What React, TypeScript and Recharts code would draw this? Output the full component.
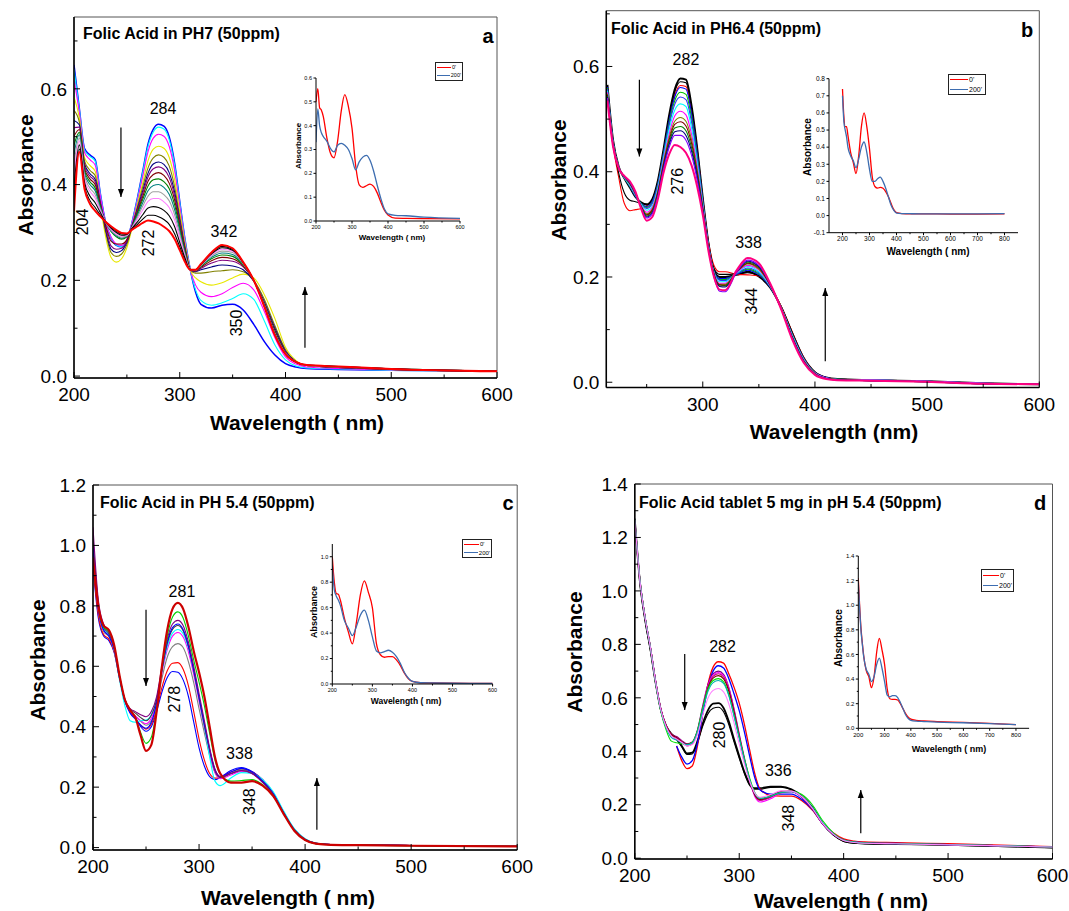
import React from 'react';
import { LineChart, Line, XAxis, YAxis, ReferenceArea, ReferenceDot, ReferenceLine } from 'recharts';

const FONT = '"Liberation Sans", Arial, Helvetica, sans-serif';

// wavelength grids (nm)
const WL = [200, 205, 210, 215, 220, 225, 230, 235, 240, 245, 250, 255, 260, 265, 270, 275, 280, 285, 290, 295, 300, 305, 310, 315, 320, 330, 340, 350, 360, 370, 380, 390, 400, 410, 420, 450, 500, 600];
const WL_B = [215, 220, 225, 230, 235, 240, 245, 250, 255, 260, 265, 270, 275, 280, 285, 290, 295, 300, 305, 310, 315, 320, 330, 340, 350, 360, 370, 380, 390, 400, 410, 420, 450, 500, 550, 600];
const WL_IN = [200, 205, 210, 215, 220, 230, 240, 250, 260, 270, 280, 290, 300, 310, 320, 330, 340, 350, 360, 370, 380, 390, 400, 420, 450, 500, 600];
const WL_IN_WIDE = [200, 205, 210, 215, 220, 230, 240, 250, 260, 270, 280, 290, 300, 310, 320, 330, 340, 350, 360, 370, 380, 390, 400, 420, 450, 500, 600, 700, 800];

// ---- panel a : pH 7 ----
const A0 = [.650, .560, .475, .462, .452, .380, .320, .288, .273, .270, .283, .322, .372, .428, .485, .516, .526, .522, .500, .447, .365, .285, .222, .175, .150, .142, .148, .150, .138, .108, .072, .044, .026, .019, .016, .014, .012, .010];
const A1 = [.641, .557, .472, .459, .449, .379, .320, .289, .274, .271, .283, .322, .370, .425, .480, .510, .520, .516, .494, .442, .362, .284, .222, .180, .158, .148, .153, .162, .172, .160, .115, .065, .034, .021, .017, .015, .012, .010];
const A2 = [.620, .551, .467, .452, .441, .375, .320, .291, .276, .273, .285, .320, .366, .417, .469, .497, .505, .501, .480, .431, .355, .280, .222, .190, .175, .166, .172, .185, .194, .180, .135, .080, .040, .025, .019, .016, .013, .010];
const A3 = [.583, .540, .456, .440, .428, .355, .290, .248, .238, .245, .268, .310, .359, .404, .450, .474, .480, .476, .457, .412, .343, .275, .222, .205, .197, .190, .195, .205, .213, .205, .170, .120, .060, .032, .022, .018, .014, .010];
const A4 = [.555, .531, .449, .430, .419, .360, .300, .258, .250, .255, .275, .312, .354, .395, .435, .456, .462, .457, .439, .397, .333, .270, .222, .215, .215, .218, .220, .222, .218, .200, .160, .105, .055, .030, .022, .018, .014, .010];
const A5 = [.534, .525, .443, .423, .411, .362, .305, .265, .258, .262, .280, .314, .350, .387, .424, .443, .447, .442, .425, .386, .326, .267, .222, .218, .222, .228, .232, .230, .222, .198, .155, .100, .052, .030, .022, .018, .014, .010];
const A6 = [.519, .520, .438, .418, .406, .360, .310, .272, .265, .267, .282, .315, .347, .382, .416, .433, .437, .432, .415, .378, .321, .265, .222, .219, .225, .236, .242, .240, .228, .199, .152, .096, .050, .029, .022, .018, .014, .010];
const A7 = [.501, .515, .433, .412, .400, .357, .314, .282, .276, .276, .285, .314, .343, .375, .407, .421, .425, .419, .403, .369, .315, .262, .222, .220, .227, .241, .248, .245, .230, .199, .150, .094, .049, .029, .022, .019, .014, .010];
const A8 = [.482, .509, .428, .406, .393, .354, .321, .302, .291, .286, .291, .313, .340, .369, .397, .410, .412, .406, .392, .359, .309, .259, .222, .220, .229, .245, .253, .250, .232, .199, .150, .092, .048, .029, .022, .019, .015, .010];
const A9 = [.464, .504, .423, .400, .387, .351, .321, .303, .293, .288, .292, .312, .336, .362, .387, .398, .400, .394, .380, .349, .303, .256, .222, .221, .230, .248, .257, .254, .234, .200, .149, .090, .048, .029, .022, .019, .015, .010];
const A10 = [.443, .497, .417, .393, .379, .348, .321, .305, .295, .290, .293, .311, .332, .355, .376, .385, .385, .379, .366, .338, .296, .253, .222, .221, .231, .251, .261, .258, .235, .200, .148, .089, .047, .029, .022, .019, .015, .010];
const A11 = [.421, .491, .411, .386, .372, .345, .322, .307, .297, .292, .294, .310, .328, .347, .365, .371, .371, .364, .352, .327, .289, .250, .222, .221, .232, .253, .265, .261, .236, .200, .147, .088, .047, .029, .022, .020, .015, .010];
const A12 = [.394, .483, .404, .376, .362, .341, .322, .309, .300, .294, .296, .309, .322, .337, .351, .354, .352, .346, .335, .313, .279, .246, .222, .222, .233, .255, .268, .263, .237, .200, .146, .087, .046, .029, .023, .020, .015, .010];
const A13 = [.366, .474, .396, .367, .352, .336, .322, .311, .303, .297, .297, .307, .317, .328, .336, .336, .333, .327, .317, .298, .270, .241, .222, .222, .233, .257, .271, .265, .237, .200, .146, .086, .046, .029, .023, .020, .015, .010];
const A14 = [.345, .468, .390, .360, .345, .333, .322, .313, .305, .299, .298, .306, .313, .320, .325, .323, .319, .312, .303, .287, .263, .238, .222, .222, .234, .258, .274, .267, .238, .200, .145, .085, .046, .029, .023, .020, .015, .010];

// ---- panel b : pH 6.4 ----
const B0 = [.565, .460, .410, .388, .370, .352, .342, .338, .348, .383, .442, .507, .556, .577, .575, .525, .445, .350, .265, .213, .200, .200, .204, .210, .201, .180, .142, .092, .046, .019, .009, .006, .004, .002, -.002, -.004];
const B1 = [.555, .452, .390, .340, .326, .328, .330, .335, .345, .378, .435, .497, .545, .564, .562, .515, .440, .348, .268, .222, .210, .210, .205, .204, .202, .182, .144, .094, .047, .019, .009, .006, .004, .002, -.002, -.004];
const B2 = [.560, .456, .398, .360, .346, .343, .340, .337, .347, .381, .439, .503, .552, .571, .569, .521, .443, .349, .266, .216, .205, .205, .206, .208, .203, .181, .143, .093, .046, .019, .009, .006, .004, .002, -.002, -.004];
const B3 = [.561, .458, .409, .389, .372, .353, .340, .334, .344, .378, .436, .497, .542, .560, .557, .510, .436, .346, .263, .211, .197, .197, .205, .213, .204, .181, .141, .090, .045, .018, .009, .006, .004, .002, -.002, -.004];
const B4 = [.559, .457, .409, .389, .372, .354, .340, .332, .341, .376, .433, .492, .535, .551, .547, .502, .430, .344, .262, .210, .195, .195, .206, .215, .206, .182, .141, .090, .044, .018, .008, .006, .004, .002, -.002, -.004];
const B5 = [.557, .456, .409, .389, .373, .355, .339, .330, .339, .374, .430, .487, .528, .542, .537, .494, .425, .341, .261, .209, .194, .193, .206, .217, .208, .182, .141, .089, .044, .018, .008, .005, .004, .002, -.002, -.004];
const B6 = [.554, .455, .409, .389, .374, .356, .338, .327, .335, .370, .426, .480, .517, .529, .524, .483, .418, .338, .259, .208, .191, .191, .207, .220, .210, .183, .141, .088, .043, .017, .008, .005, .004, .002, -.002, -.004];
const B7 = [.551, .454, .408, .390, .376, .357, .336, .323, .332, .366, .421, .471, .506, .515, .508, .471, .410, .335, .258, .207, .188, .188, .208, .222, .213, .184, .140, .086, .042, .017, .008, .005, .004, .002, -.002, -.004];
const B8 = [.548, .453, .408, .390, .377, .358, .335, .320, .329, .363, .417, .465, .496, .503, .496, .461, .403, .332, .256, .206, .186, .186, .209, .225, .215, .185, .140, .085, .041, .016, .007, .005, .003, .001, -.003, -.004];
const B9 = [.546, .452, .408, .391, .378, .358, .334, .318, .327, .361, .414, .460, .490, .495, .487, .454, .399, .330, .256, .205, .185, .184, .209, .226, .217, .185, .139, .084, .040, .016, .007, .005, .003, .001, -.003, -.004];
const B10 = [.544, .451, .408, .391, .378, .359, .334, .316, .324, .359, .411, .455, .483, .486, .478, .446, .394, .328, .255, .204, .183, .183, .210, .228, .219, .186, .139, .084, .040, .016, .007, .005, .003, .001, -.003, -.004];
const B11 = [.542, .450, .408, .391, .379, .360, .333, .314, .322, .356, .409, .451, .476, .478, .469, .439, .390, .326, .254, .203, .182, .181, .210, .230, .220, .186, .139, .083, .039, .015, .007, .004, .003, .001, -.003, -.004];
const B12 = [.540, .449, .408, .391, .380, .360, .332, .312, .320, .354, .405, .446, .469, .469, .460, .431, .384, .323, .253, .200, .173, .172, .208, .232, .222, .187, .139, .082, .039, .015, .007, .004, .003, .001, -.003, -.004];
const B13 = [.535, .448, .407, .392, .382, .362, .330, .307, .314, .348, .398, .433, .451, .447, .436, .412, .372, .318, .250, .200, .176, .175, .212, .236, .226, .188, .138, .080, .037, .014, .006, .004, .003, .001, -.003, -.004];

// ---- panel c : pH 5.4 ----
const C0 = [.960, .800, .735, .720, .670, .570, .490, .455, .430, .370, .320, .340, .450, .600, .720, .790, .810, .790, .730, .650, .580, .500, .400, .300, .245, .215, .215, .220, .205, .170, .110, .055, .025, .013, .010, .008, .006, .004];
const C1 = [.956, .795, .730, .715, .667, .569, .490, .454, .430, .380, .345, .365, .455, .593, .700, .763, .780, .760, .700, .620, .548, .470, .378, .290, .243, .220, .222, .225, .208, .172, .111, .056, .025, .013, .010, .008, .006, .004];
const C2 = [1.060, .820, .740, .712, .662, .567, .490, .460, .450, .440, .433, .450, .500, .600, .690, .740, .752, .735, .680, .600, .510, .420, .330, .260, .235, .245, .255, .245, .215, .175, .112, .057, .026, .013, .010, .008, .006, .004];
const C3 = [.990, .790, .720, .700, .655, .563, .485, .445, .425, .405, .395, .415, .480, .590, .680, .728, .740, .722, .668, .588, .498, .410, .325, .258, .235, .250, .262, .250, .220, .178, .114, .058, .027, .014, .011, .009, .007, .004];
const C4 = [1.020, .810, .730, .708, .660, .566, .490, .458, .445, .430, .420, .438, .490, .590, .675, .722, .735, .718, .665, .585, .495, .405, .322, .255, .232, .245, .255, .246, .218, .176, .113, .058, .027, .014, .011, .009, .007, .004];
const C5 = [1.000, .800, .725, .705, .655, .555, .470, .420, .415, .420, .422, .440, .490, .585, .665, .710, .722, .708, .660, .585, .495, .400, .300, .220, .205, .230, .248, .245, .225, .185, .120, .062, .029, .015, .011, .009, .007, .004];
const C6 = [.980, .790, .720, .702, .655, .562, .488, .448, .435, .420, .410, .428, .480, .578, .655, .700, .712, .697, .648, .572, .485, .398, .315, .250, .228, .240, .252, .244, .218, .177, .114, .058, .027, .014, .011, .009, .007, .004];
const C7 = [.970, .785, .715, .698, .652, .561, .488, .450, .435, .418, .405, .420, .470, .560, .630, .665, .675, .662, .615, .545, .460, .380, .305, .248, .230, .245, .258, .248, .220, .178, .114, .059, .027, .014, .011, .009, .007, .004];
const C8 = [.940, .770, .705, .690, .648, .560, .488, .448, .428, .405, .392, .408, .458, .530, .585, .610, .612, .590, .535, .450, .360, .290, .245, .230, .232, .250, .260, .250, .224, .180, .115, .060, .028, .014, .011, .009, .007, .004];
const C9 = [.930, .760, .700, .685, .645, .560, .490, .450, .430, .400, .385, .400, .450, .515, .563, .583, .580, .555, .500, .415, .330, .270, .235, .225, .232, .255, .265, .252, .225, .180, .115, .060, .028, .014, .011, .009, .007, .004];

// ---- panel d : tablet 5 mg, pH 5.4 ----
const D0 = [null, null, null, null, null, null, null, null, .420, .365, .335, .345, .420, .540, .650, .715, .735, .730, .690, .640, .580, .500, .405, .315, .258, .235, .232, .232, .215, .180, .130, .095, .072, .064, .061, .058, .054, .043];
const D1 = [null, null, null, null, null, null, null, null, .420, .378, .352, .365, .430, .540, .640, .700, .720, .712, .672, .615, .552, .472, .382, .300, .255, .240, .240, .240, .220, .183, .128, .090, .068, .061, .058, .055, .051, .042];
const D2 = [1.272, 1.040, .900, .790, .662, .558, .497, .465, .455, .440, .428, .435, .480, .570, .650, .690, .700, .688, .640, .560, .465, .375, .295, .238, .218, .228, .248, .250, .228, .185, .128, .090, .067, .060, .057, .055, .051, .042];
const D3 = [1.268, 1.036, .898, .788, .660, .556, .495, .462, .452, .437, .425, .432, .476, .565, .645, .685, .695, .683, .636, .555, .460, .368, .288, .230, .210, .222, .244, .248, .228, .186, .129, .090, .067, .060, .057, .055, .051, .042];
const D4 = [1.270, 1.038, .899, .789, .661, .557, .496, .463, .450, .433, .420, .428, .472, .560, .640, .680, .690, .678, .632, .552, .458, .368, .290, .235, .216, .228, .248, .250, .229, .186, .129, .090, .067, .060, .057, .055, .051, .042];
const D5 = [1.266, 1.035, .897, .787, .660, .556, .496, .463, .452, .437, .426, .433, .475, .560, .636, .674, .683, .671, .625, .547, .455, .367, .290, .237, .220, .232, .250, .251, .229, .186, .129, .090, .066, .059, .057, .054, .051, .042];
const D6 = [1.270, 1.038, .898, .786, .655, .548, .480, .438, .432, .428, .425, .433, .478, .562, .632, .665, .672, .660, .612, .535, .452, .372, .300, .245, .225, .232, .245, .250, .238, .200, .140, .095, .068, .060, .057, .055, .051, .042];
const D7 = [1.268, 1.036, .897, .786, .657, .552, .488, .452, .442, .432, .424, .431, .472, .552, .623, .657, .665, .654, .608, .532, .448, .366, .294, .242, .224, .232, .247, .249, .231, .190, .132, .092, .067, .060, .057, .054, .051, .042];
const D8 = [1.265, 1.034, .896, .786, .658, .554, .492, .458, .446, .433, .420, .425, .462, .535, .598, .628, .635, .622, .578, .506, .428, .352, .288, .243, .228, .238, .252, .251, .230, .187, .129, .090, .066, .059, .056, .054, .050, .042];
const D9 = [1.268, 1.030, .890, .780, .655, .553, .495, .465, .448, .420, .392, .395, .438, .503, .553, .578, .580, .562, .512, .445, .382, .322, .278, .262, .262, .268, .268, .258, .232, .190, .130, .088, .064, .057, .055, .053, .050, .040];
const D10 = [1.262, 1.025, .886, .776, .652, .550, .492, .462, .444, .416, .388, .390, .430, .493, .540, .561, .565, .548, .500, .435, .374, .316, .272, .258, .258, .265, .266, .256, .230, .188, .128, .087, .063, .056, .054, .052, .049, .039];

// ---- insets: 0' and 200' ----
const IA_0 = [.500, .555, .475, .465, .440, .350, .285, .265, .335, .460, .530, .480, .390, .235, .152, .141, .148, .155, .145, .118, .080, .045, .025, .012, .011, .010, .009];
const IA_200 = [.330, .470, .400, .370, .355, .335, .305, .290, .318, .326, .318, .300, .262, .215, .248, .268, .275, .255, .210, .150, .095, .050, .030, .024, .022, .016, .011];
const IB_0 = [.740, .580, .520, .520, .470, .370, .310, .245, .350, .520, .600, .520, .390, .230, .170, .160, .165, .160, .140, .110, .070, .035, .018, .012, .010, .010, .009, .009, .010];
const IB_200 = [.700, .550, .500, .460, .400, .350, .320, .280, .330, .400, .430, .370, .270, .200, .200, .215, .225, .200, .160, .110, .060, .030, .015, .012, .011, .010, .010, .010, .011];
const IC_0 = [1.000, .800, .710, .705, .660, .520, .410, .315, .480, .700, .810, .720, .600, .320, .230, .210, .215, .215, .190, .145, .085, .040, .020, .010, .008, .006, .005];
const IC_200 = [.930, .740, .690, .660, .620, .500, .440, .380, .450, .540, .580, .500, .370, .260, .245, .255, .265, .250, .215, .160, .090, .045, .020, .010, .008, .006, .005];
const ID_0 = [1.220, 1.000, .820, .700, .600, .470, .420, .330, .420, .620, .730, .640, .520, .320, .240, .235, .235, .230, .200, .160, .120, .090, .075, .065, .060, .055, .048, .040, .030];
const ID_200 = [1.180, .980, .800, .690, .590, .480, .440, .380, .420, .520, .570, .490, .380, .270, .255, .265, .265, .250, .210, .160, .110, .080, .065, .058, .055, .050, .045, .038, .030];

const LEGEND_LABELS = ["0'", "200'"];
const INSET_COLORS = ['#FF0000', '#3D6DB0'];

// ticks
const X_TICKS = [200, 250, 300, 350, 400, 450, 500, 550, 600];
const X_LABELS = [200, 300, 400, 500, 600];
const XB_TICKS = [250, 300, 350, 400, 450, 500, 550, 600];
const XB_LABELS = [300, 400, 500, 600];
const Y_TICKS_AB = [0, .1, .2, .3, .4, .5, .6, .7];
const Y_LABELS_AB = [0, .2, .4, .6];
const Y_TICKS_C = [0, .1, .2, .3, .4, .5, .6, .7, .8, .9, 1.0, 1.1, 1.2];
const Y_LABELS_C = [0, .2, .4, .6, .8, 1.0, 1.2];
const Y_TICKS_D = [0, .1, .2, .3, .4, .5, .6, .7, .8, .9, 1.0, 1.1, 1.2, 1.3, 1.4];
const Y_LABELS_D = [0, .2, .4, .6, .8, 1.0, 1.2, 1.4];
const IX_TICKS = [200, 250, 300, 350, 400, 450, 500, 550, 600];
const IX_LABELS = [200, 300, 400, 500, 600];
const IXW_TICKS = [200, 250, 300, 350, 400, 450, 500, 550, 600, 650, 700, 750, 800];
const IXW_LABELS = [200, 300, 400, 500, 600, 700, 800];
const IYA = [0, .1, .2, .3, .4, .5, .6];
const IYB = [-.1, 0, .1, .2, .3, .4, .5, .6, .7, .8];
const IYC_TICKS = [0, .1, .2, .3, .4, .5, .6, .7, .8, .9, 1.0];
const IYC_LABELS = [0, .2, .4, .6, .8, 1.0];
const IYD_TICKS = [0, .1, .2, .3, .4, .5, .6, .7, .8, .9, 1.0, 1.1, 1.2, 1.3, 1.4];
const IYD_LABELS = [0, .2, .4, .6, .8, 1.0, 1.2, 1.4];

type Series = { d: (number | null)[]; c: string; w?: number };
type Note = { x: number; y: number; t: string; r?: boolean };
type Arrow = { x: number; y1: number; y2: number };
type TickOpt = { size: number; gap: number; major: number; minor: number; inward: boolean };

const isIn = (arr: number[], v: number) => arr.some((m) => Math.abs(m - v) < 1e-6);

function toRows(grid: number[], series: Series[]) {
  return grid.map((w, i) => {
    const r: Record<string, number | null> = { w };
    series.forEach((s, k) => {
      const v = s.d[i];
      r['s' + k] = v === undefined ? null : v;
    });
    return r;
  });
}

function xTick(labels: number[], o: TickOpt) {
  return (p: any) => {
    const v = p.payload.value;
    const major = isIn(labels, v);
    const ay = p.y - o.gap;
    const len = major ? o.major : o.minor;
    return (
      <g>
        <line x1={p.x} x2={p.x} y1={ay} y2={o.inward ? ay - len : ay + len} stroke="#000" strokeWidth={1} />
        {major && (
          <text x={p.x} y={p.y} dy="0.71em" textAnchor="middle" fontSize={o.size} fontFamily={FONT} fill="#000">
            {String(v)}
          </text>
        )}
      </g>
    );
  };
}

function yTick(labels: number[], o: TickOpt) {
  return (p: any) => {
    const v = p.payload.value;
    const major = isIn(labels, v);
    const ax = p.x + o.gap;
    const len = major ? o.major : o.minor;
    return (
      <g>
        <line x1={ax} x2={o.inward ? ax + len : ax - len} y1={p.y} y2={p.y} stroke="#000" strokeWidth={1} />
        {major && (
          <text x={p.x} y={p.y} dy="0.355em" textAnchor="end" fontSize={o.size} fontFamily={FONT} fill="#000">
            {v.toFixed(1)}
          </text>
        )}
      </g>
    );
  };
}

function Txt(props: { x: number; y: number; size: number; bold?: boolean; rot?: boolean; left?: boolean; children: React.ReactNode }) {
  const { x, y, size, bold, rot, left, children } = props;
  return (
    <div
      style={{
        position: 'absolute',
        left: x,
        top: y,
        transform: left ? 'translateY(-50%)' : `translate(-50%, -50%)${rot ? ' rotate(-90deg)' : ''}`,
        fontFamily: FONT,
        fontSize: size,
        fontWeight: bold ? 'bold' : 'normal',
        whiteSpace: 'nowrap',
        lineHeight: 1,
        color: '#000',
      }}
    >
      {children}
    </div>
  );
}

function Panel(props: {
  box: number[];
  plot: number[];
  grid: number[];
  series: Series[];
  xDomain: [number, number];
  yDomain: [number, number];
  xTicks: number[];
  xLabels: number[];
  yTicks: number[];
  yLabels: number[];
  notes: Note[];
  arrows: Arrow[];
}) {
  const { box, plot, grid, series, xDomain, yDomain, xTicks, xLabels, yTicks, yLabels, notes, arrows } = props;
  const [cl, ct, cw, ch] = box;
  const [pl, pr, pt, pb] = plot;
  const YW = 50;
  const XH = 30;
  const margin = { left: pl - cl - YW, top: pt - ct, right: cl + cw - pr, bottom: ct + ch - pb - XH };
  const rows = toRows(grid, series);
  const xo: TickOpt = { size: 19, gap: 10, major: 6, minor: 3.5, inward: true };
  const yo: TickOpt = { size: 19, gap: 7, major: 6, minor: 3.5, inward: true };
  return (
    <div style={{ position: 'absolute', left: cl, top: ct, width: cw, height: ch }}>
      <LineChart width={cw} height={ch} data={rows} margin={margin}>
        <ReferenceArea x1={xDomain[0]} x2={xDomain[1]} y1={yDomain[0]} y2={yDomain[1]} fill="none" fillOpacity={0} stroke="#555" strokeWidth={1} ifOverflow="visible" />
        <XAxis
          type="number"
          dataKey="w"
          domain={xDomain}
          ticks={xTicks}
          interval={0}
          allowDataOverflow
          height={XH}
          tickSize={0}
          tickMargin={xo.gap}
          tickLine={false}
          axisLine={{ stroke: '#000', strokeWidth: 1.5 }}
          tick={xTick(xLabels, xo)}
        />
        <YAxis
          type="number"
          domain={yDomain}
          ticks={yTicks}
          interval={0}
          allowDataOverflow
          width={YW}
          tickSize={0}
          tickMargin={yo.gap}
          tickLine={false}
          axisLine={{ stroke: '#000', strokeWidth: 1.5 }}
          tick={yTick(yLabels, yo)}
        />
        {series.map((s, k) => (
          <Line
            key={'s' + k}
            type="monotone"
            dataKey={'s' + k}
            stroke={s.c}
            strokeWidth={s.w ?? 1.1}
            dot={false}
            activeDot={false}
            connectNulls={false}
            isAnimationActive={false}
          />
        ))}
        {notes.map((n, i) => (
          <ReferenceDot
            key={'n' + i}
            x={n.x}
            y={n.y}
            r={0}
            ifOverflow="visible"
            shape={(p: any) => (
              <text
                x={p.cx}
                y={p.cy}
                transform={n.r ? `rotate(-90 ${p.cx} ${p.cy})` : undefined}
                textAnchor="middle"
                dominantBaseline="central"
                fontSize={16}
                fontFamily={FONT}
                fill="#000"
              >
                {n.t}
              </text>
            )}
          />
        ))}
        {arrows.map((a, i) => (
          <ReferenceLine
            key={'al' + i}
            segment={[{ x: a.x, y: a.y1 }, { x: a.x, y: a.y2 }]}
            stroke="#000"
            strokeWidth={1.2}
            ifOverflow="visible"
          />
        ))}
        {arrows.map((a, i) => (
          <ReferenceDot
            key={'ah' + i}
            x={a.x}
            y={a.y2}
            r={0}
            ifOverflow="visible"
            shape={(p: any) => {
              const s = a.y2 > a.y1 ? 1 : -1;
              return <polygon points={`${p.cx - 3},${p.cy + 8 * s} ${p.cx + 3},${p.cy + 8 * s} ${p.cx},${p.cy}`} fill="#000" />;
            }}
          />
        ))}
      </LineChart>
    </div>
  );
}

function Inset(props: {
  box: number[];
  plot: number[];
  grid: number[];
  d0: number[];
  d200: number[];
  xDomain: [number, number];
  yDomain: [number, number];
  xTicks: number[];
  xLabels: number[];
  yTicks: number[];
  yLabels: number[];
  font: number;
}) {
  const { box, plot, grid, d0, d200, xDomain, yDomain, xTicks, xLabels, yTicks, yLabels, font } = props;
  const [cl, ct, cw, ch] = box;
  const [pl, pr, pt, pb] = plot;
  const YW = 24;
  const XH = 12;
  const margin = { left: pl - cl - YW, top: pt - ct, right: cl + cw - pr, bottom: ct + ch - pb - XH };
  const rows = toRows(grid, [
    { d: d0, c: INSET_COLORS[0] },
    { d: d200, c: INSET_COLORS[1] },
  ]);
  const xo: TickOpt = { size: font, gap: 4, major: 2.5, minor: 1.5, inward: false };
  const yo: TickOpt = { size: font, gap: 4, major: 2.5, minor: 1.5, inward: false };
  return (
    <div style={{ position: 'absolute', left: cl, top: ct, width: cw, height: ch }}>
      <LineChart width={cw} height={ch} data={rows} margin={margin}>
        <XAxis
          type="number"
          dataKey="w"
          domain={xDomain}
          ticks={xTicks}
          interval={0}
          allowDataOverflow
          height={XH}
          tickSize={0}
          tickMargin={xo.gap}
          tickLine={false}
          axisLine={{ stroke: '#000', strokeWidth: 1 }}
          tick={xTick(xLabels, xo)}
        />
        <YAxis
          type="number"
          domain={yDomain}
          ticks={yTicks}
          interval={0}
          allowDataOverflow
          width={YW}
          tickSize={0}
          tickMargin={yo.gap}
          tickLine={false}
          axisLine={{ stroke: '#000', strokeWidth: 1 }}
          tick={yTick(yLabels, yo)}
        />
        <Line type="monotone" dataKey="s0" stroke={INSET_COLORS[0]} strokeWidth={1.3} dot={false} activeDot={false} isAnimationActive={false} />
        <Line type="monotone" dataKey="s1" stroke={INSET_COLORS[1]} strokeWidth={1.3} dot={false} activeDot={false} isAnimationActive={false} />
      </LineChart>
    </div>
  );
}

function InsetLegend(props: { x: number; y: number; w: number; h: number; line: number; size: number }) {
  const { x, y, w, h, line, size } = props;
  return (
    <div
      style={{
        position: 'absolute',
        left: x,
        top: y,
        width: w,
        height: h,
        border: '1.3px solid #222',
        boxSizing: 'border-box',
        background: '#fff',
        fontFamily: FONT,
        fontSize: size,
        display: 'flex',
        flexDirection: 'column',
        justifyContent: 'space-around',
        padding: '0 1px',
      }}
    >
      {LEGEND_LABELS.map((t, i) => (
        <div key={t} style={{ display: 'flex', alignItems: 'center', lineHeight: 1 }}>
          <span style={{ display: 'inline-block', width: line, height: 0, borderTop: `1.4px solid ${INSET_COLORS[i]}`, marginRight: 1 }} />
          <span>{t}</span>
        </div>
      ))}
    </div>
  );
}

const SERIES_A: Series[] = [
  { d: A0, c: '#0000FF', w: 1.5 },
  { d: A1, c: '#00FFFF' },
  { d: A2, c: '#FF00FF' },
  { d: A3, c: '#E8E800' },
  { d: A4, c: '#808000' },
  { d: A5, c: '#000080' },
  { d: A6, c: '#800080' },
  { d: A7, c: '#800000' },
  { d: A8, c: '#008000' },
  { d: A9, c: '#008080' },
  { d: A10, c: '#A0A0A0' },
  { d: A11, c: '#FF80FF' },
  { d: A12, c: '#000000' },
  { d: A13, c: '#000000' },
  { d: A14, c: '#FF0000', w: 2 },
];

const SERIES_B: Series[] = [
  { d: B0, c: '#000000', w: 2 },
  { d: B1, c: '#FF0000' },
  { d: B2, c: '#000000' },
  { d: B3, c: '#0000FF' },
  { d: B4, c: '#00C000' },
  { d: B5, c: '#3030FF' },
  { d: B6, c: '#00FFFF' },
  { d: B7, c: '#FF00FF' },
  { d: B8, c: '#808000' },
  { d: B9, c: '#800000' },
  { d: B10, c: '#008000' },
  { d: B11, c: '#000080' },
  { d: B12, c: '#8000FF' },
  { d: B13, c: '#FF0080', w: 2 },
];

const SERIES_C: Series[] = [
  { d: C9, c: '#0000FF' },
  { d: C8, c: '#FF0000' },
  { d: C7, c: '#808080' },
  { d: C6, c: '#FF00FF' },
  { d: C5, c: '#00FFFF' },
  { d: C4, c: '#404040' },
  { d: C3, c: '#0000FF' },
  { d: C2, c: '#800080' },
  { d: C1, c: '#00D000' },
  { d: C0, c: '#CC0000', w: 2.2 },
];

const SERIES_D: Series[] = [
  { d: D9, c: '#000000', w: 1.8 },
  { d: D10, c: '#000000' },
  { d: D0, c: '#FF0000', w: 1.3 },
  { d: D1, c: '#0000FF', w: 1.3 },
  { d: D2, c: '#800080' },
  { d: D3, c: '#FF00FF' },
  { d: D4, c: '#C0007F' },
  { d: D5, c: '#800000' },
  { d: D6, c: '#00E000' },
  { d: D7, c: '#00B0B0' },
  { d: D8, c: '#FF80FF' },
];

export default function App() {
  return (
    <div style={{ position: 'absolute', left: 0, top: 0, width: 1069, height: 911, background: '#fff', overflow: 'hidden' }}>
      <Panel
        box={[0, 0, 535, 450]}
        plot={[74, 497, 17, 378]}
        grid={WL}
        series={SERIES_A}
        xDomain={[200, 600]}
        yDomain={[-0.004, 0.75]}
        xTicks={X_TICKS}
        xLabels={X_LABELS}
        yTicks={Y_TICKS_AB}
        yLabels={Y_LABELS_AB}
        notes={[
          { x: 284.2, y: 0.558, t: '284' },
          { x: 208.5, y: 0.322, t: '204', r: true },
          { x: 270, y: 0.278, t: '272', r: true },
          { x: 341.8, y: 0.303, t: '342' },
          { x: 354, y: 0.111, t: '350', r: true },
        ]}
        arrows={[
          { x: 244.4, y1: 0.519, y2: 0.374 },
          { x: 418.4, y1: 0.059, y2: 0.186 },
        ]}
      />
      <Panel
        box={[530, 0, 539, 450]}
        plot={[606.3, 1039.3, 10.7, 387.5]}
        grid={WL_B}
        series={SERIES_B}
        xDomain={[214, 600]}
        yDomain={[-0.01, 0.706]}
        xTicks={XB_TICKS}
        xLabels={XB_LABELS}
        yTicks={Y_TICKS_AB}
        yLabels={Y_LABELS_AB}
        notes={[
          { x: 285, y: 0.613, t: '282' },
          { x: 277.3, y: 0.382, t: '276', r: true },
          { x: 340.8, y: 0.266, t: '338' },
          { x: 343.8, y: 0.154, t: '344', r: true },
        ]}
        arrows={[
          { x: 243.5, y1: 0.575, y2: 0.429 },
          { x: 409.2, y1: 0.04, y2: 0.179 },
        ]}
      />
      <Panel
        box={[0, 455, 540, 456]}
        plot={[93, 517.2, 485, 850]}
        grid={WL}
        series={SERIES_C}
        xDomain={[200, 600]}
        yDomain={[-0.008, 1.2]}
        xTicks={X_TICKS}
        xLabels={X_LABELS}
        yTicks={Y_TICKS_C}
        yLabels={Y_LABELS_C}
        notes={[
          { x: 283.9, y: 0.847, t: '281' },
          { x: 276.5, y: 0.491, t: '278', r: true },
          { x: 338.1, y: 0.31, t: '338' },
          { x: 347.6, y: 0.152, t: '348', r: true },
        ]}
        arrows={[
          { x: 250, y1: 0.787, y2: 0.535 },
          { x: 411.1, y1: 0.059, y2: 0.23 },
        ]}
      />
      <Panel
        box={[530, 455, 539, 456]}
        plot={[634.8, 1052.5, 484, 859]}
        grid={WL}
        series={SERIES_D}
        xDomain={[200, 600]}
        yDomain={[-0.003, 1.4]}
        xTicks={X_TICKS}
        xLabels={X_LABELS}
        yTicks={Y_TICKS_D}
        yLabels={Y_LABELS_D}
        notes={[
          { x: 284, y: 0.791, t: '282' },
          { x: 281.4, y: 0.461, t: '280', r: true },
          { x: 337.4, y: 0.327, t: '336' },
          { x: 347.2, y: 0.15, t: '348', r: true },
        ]}
        arrows={[
          { x: 247.8, y1: 0.764, y2: 0.554 },
          { x: 416.4, y1: 0.093, y2: 0.255 },
        ]}
      />

      <Inset box={[280, 55, 200, 195]} plot={[316, 460, 78, 221]} grid={WL_IN} d0={IA_0} d200={IA_200} xDomain={[200, 600]} yDomain={[0, 0.6]} xTicks={IX_TICKS} xLabels={IX_LABELS} yTicks={IYA} yLabels={IYA} font={5.5} />
      <Inset box={[790, 55, 245, 205]} plot={[829, 1018, 78.7, 232.7]} grid={WL_IN_WIDE} d0={IB_0} d200={IB_200} xDomain={[150, 850]} yDomain={[-0.1, 0.8]} xTicks={IXW_TICKS} xLabels={IXW_LABELS} yTicks={IYB} yLabels={IYB} font={6.5} />
      <Inset box={[295, 525, 210, 195]} plot={[332.3, 492.6, 544, 684]} grid={WL_IN} d0={IC_0} d200={IC_200} xDomain={[200, 600]} yDomain={[0, 1.1]} xTicks={IX_TICKS} xLabels={IX_LABELS} yTicks={IYC_TICKS} yLabels={IYC_LABELS} font={5.5} />
      <Inset box={[820, 535, 225, 225]} plot={[858.3, 1029.1, 556, 728.3]} grid={WL_IN_WIDE} d0={ID_0} d200={ID_200} xDomain={[200, 850]} yDomain={[0, 1.4]} xTicks={IXW_TICKS} xLabels={IXW_LABELS} yTicks={IYD_TICKS} yLabels={IYD_LABELS} font={6} />

      <InsetLegend x={435} y={62} w={28} h={19} line={14} size={5.5} />
      <InsetLegend x={948} y={74} w={38} h={21} line={18} size={7} />
      <InsetLegend x={462} y={539} w={30} h={19} line={15} size={6} />
      <InsetLegend x={981} y={569} w={33} h={23} line={16} size={7} />

      {/* panel titles and letters */}
      <Txt x={83} y={34} size={16} bold left>Folic Acid in PH7 (50ppm)</Txt>
      <Txt x={488} y={36} size={20} bold>a</Txt>
      <Txt x={611} y={29} size={16} bold left>Folic Acid in PH6.4 (50ppm)</Txt>
      <Txt x={1027} y={30} size={20} bold>b</Txt>
      <Txt x={100} y={503} size={16} bold left>Folic Acid in PH 5.4 (50ppm)</Txt>
      <Txt x={508} y={503} size={20} bold>c</Txt>
      <Txt x={639} y={503} size={16} bold left>Folic Acid tablet 5 mg in pH 5.4 (50ppm)</Txt>
      <Txt x={1040} y={503} size={20} bold>d</Txt>

      {/* main axis titles */}
      <Txt x={24.5} y={175} size={21} bold rot>Absorbance</Txt>
      <Txt x={297} y={422} size={21} bold>Wavelength ( nm)</Txt>
      <Txt x={558} y={180} size={21} bold rot>Absorbance</Txt>
      <Txt x={834} y={431} size={21} bold>Wavelength (nm)</Txt>
      <Txt x={37} y={660} size={21} bold rot>Absorbance</Txt>
      <Txt x={288} y={897} size={21} bold>Wavelength ( nm)</Txt>
      <Txt x={574} y={652} size={21} bold rot>Absorbance</Txt>
      <Txt x={841} y={900} size={21} bold>Wavelength ( nm)</Txt>

      {/* inset axis titles */}
      <Txt x={299} y={146} size={8} bold rot>Absorbance</Txt>
      <Txt x={392} y={238} size={8} bold>Wavelength ( nm)</Txt>
      <Txt x={808} y={147} size={10} bold rot>Absorbance</Txt>
      <Txt x={928} y={252} size={10} bold>Wavelength ( nm)</Txt>
      <Txt x={314} y={612} size={9} bold rot>Absorbance</Txt>
      <Txt x={406} y={701} size={8.5} bold>Wavelength ( nm)</Txt>
      <Txt x={839} y={638} size={10} bold rot>Absorbance</Txt>
      <Txt x={949} y={749} size={9} bold>Wavelength ( nm)</Txt>
    </div>
  );
}
